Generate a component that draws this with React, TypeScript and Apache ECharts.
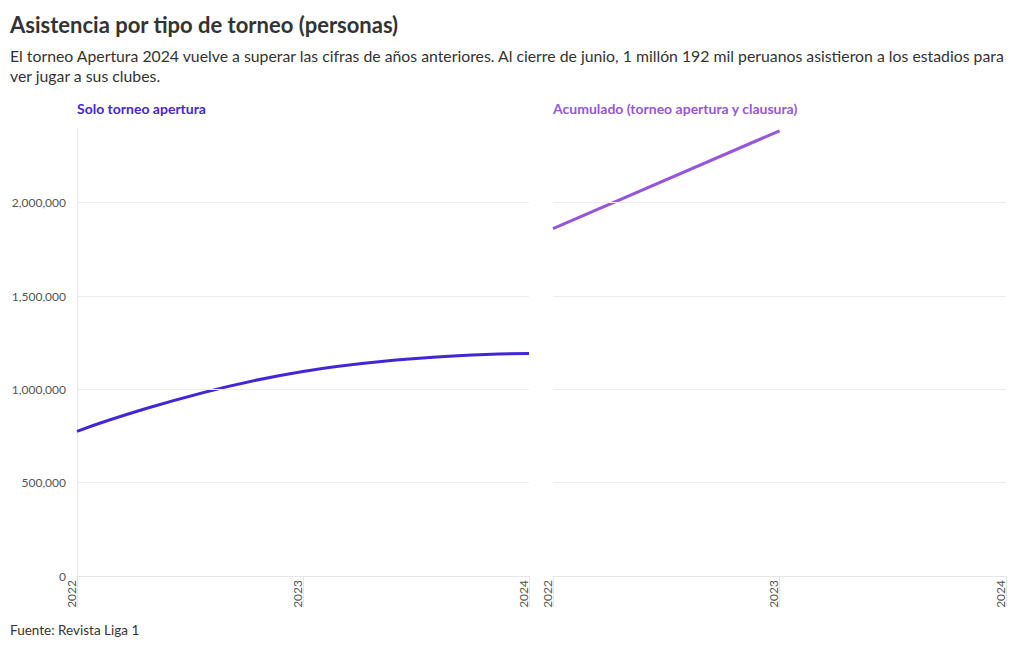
import React, { useEffect, useRef } from "react";
import * as echarts from "echarts";

const years = [2022, 2023, 2024];
const aperturaValues = [775000, 1096000, 1192000];
const acumuladoYears = [2022, 2023];
const acumuladoValues = [1861000, 2385000];
const yTicks = [500000, 1000000, 1500000, 2000000];

const FONT = "Lato, 'Noto Sans', sans-serif";
const fmt = (v: number) => v.toLocaleString("en-US");

export default function App() {
  const ref = useRef<HTMLDivElement>(null);
  useEffect(() => {
    if (!ref.current) return;
    const chart = echarts.init(ref.current, undefined, { renderer: "svg" });
    const gridLine = (color: string) => ({
      silent: true,
      symbol: "none",
      label: { show: false },
      lineStyle: { color, width: 1, type: "solid" },
      data: yTicks.map((v) => ({ yAxis: v })),
    });
    const xAxisBase = (gridIndex: number) => ({
      type: "value",
      gridIndex,
      min: years[0],
      max: years[years.length - 1],
      interval: 1,
      axisLine: { show: true, lineStyle: { color: "#e6e6e6", width: 1 } },
      axisTick: { show: true, length: 31, lineStyle: { color: "#e6e6e6", width: 1 } },
      splitLine: { show: false },
      axisLabel: {
        rotate: 90,
        margin: 4,
        verticalAlign: "bottom",
        color: "#555",
        fontSize: 12,
        fontFamily: FONT,
        formatter: (v: number) => String(v),
      },
    });
    chart.setOption({
      animation: false,
      textStyle: { fontFamily: FONT },
      title: [
        {
          text: "Asistencia por tipo de torneo (personas)",
          left: 10,
          top: 13,
          padding: 0,
          textStyle: { fontSize: 22, fontWeight: "bold", color: "#333", fontFamily: FONT },
        },
        {
          text:
            "El torneo Apertura 2024 vuelve a superar las cifras de años anteriores. Al cierre de junio, 1 millón 192 mil peruanos asistieron a los estadios para\nver jugar a sus clubes.",
          left: 10,
          top: 45,
          padding: 0,
          textStyle: { fontSize: 15.8, fontWeight: "normal", color: "#333", lineHeight: 20, fontFamily: FONT },
        },
        {
          text: "Solo torneo apertura",
          left: 77,
          top: 101,
          padding: 0,
          textStyle: { fontSize: 14, fontWeight: "bold", color: "#4327d6", fontFamily: FONT },
        },
        {
          text: "Acumulado (torneo apertura y clausura)",
          left: 553,
          top: 101,
          padding: 0,
          textStyle: { fontSize: 14, fontWeight: "bold", color: "#9656dc", fontFamily: FONT },
        },
        {
          text: "Fuente: Revista Liga 1",
          left: 10,
          top: 623,
          padding: 0,
          textStyle: { fontSize: 13.5, fontWeight: "normal", color: "#333", fontFamily: FONT },
        },
      ],
      grid: [
        { left: 77, right: 491, top: 128, bottom: 74, containLabel: false },
        { left: 553, right: 14, top: 128, bottom: 74, containLabel: false },
      ],
      xAxis: [xAxisBase(0), xAxisBase(1)],
      yAxis: [
        {
          type: "value",
          gridIndex: 0,
          min: 0,
          max: 2400000,
          interval: 500000,
          axisLine: { show: true, lineStyle: { color: "#e6e6e6", width: 1 } },
          axisTick: { show: false },
          splitLine: { show: false },
          axisLabel: {
            margin: 11,
            color: "#555",
            fontSize: 12,
            fontFamily: FONT,
            showMaxLabel: false,
            formatter: (v: number) => (v % 500000 === 0 ? fmt(v) : ""),
          },
        },
        {
          type: "value",
          gridIndex: 1,
          min: 0,
          max: 2400000,
          interval: 500000,
          axisLine: { show: false },
          axisTick: { show: false },
          splitLine: { show: false },
          axisLabel: { show: false },
        },
      ],
      series: [
        {
          type: "line",
          xAxisIndex: 0,
          yAxisIndex: 0,
          data: years.map((y, i) => [y, aperturaValues[i]]),
          smooth: 0.5,
          showSymbol: false,
          symbol: "none",
          lineStyle: { color: "#4327d6", width: 3 },
          itemStyle: { color: "#4327d6" },
          markLine: gridLine("#ececec"),
          z: 3,
        },
        {
          type: "line",
          xAxisIndex: 1,
          yAxisIndex: 1,
          data: acumuladoYears.map((y, i) => [y, acumuladoValues[i]]),
          showSymbol: false,
          symbol: "none",
          lineStyle: { color: "#9656dc", width: 3 },
          itemStyle: { color: "#9656dc" },
          markLine: gridLine("#ececec"),
          z: 3,
        },
      ],
    });
    return () => chart.dispose();
  }, []);
  return (
    <div
      ref={ref}
      style={{ position: "fixed", left: 0, top: 0, width: 1020, height: 650, background: "#fff" }}
    />
  );
}
